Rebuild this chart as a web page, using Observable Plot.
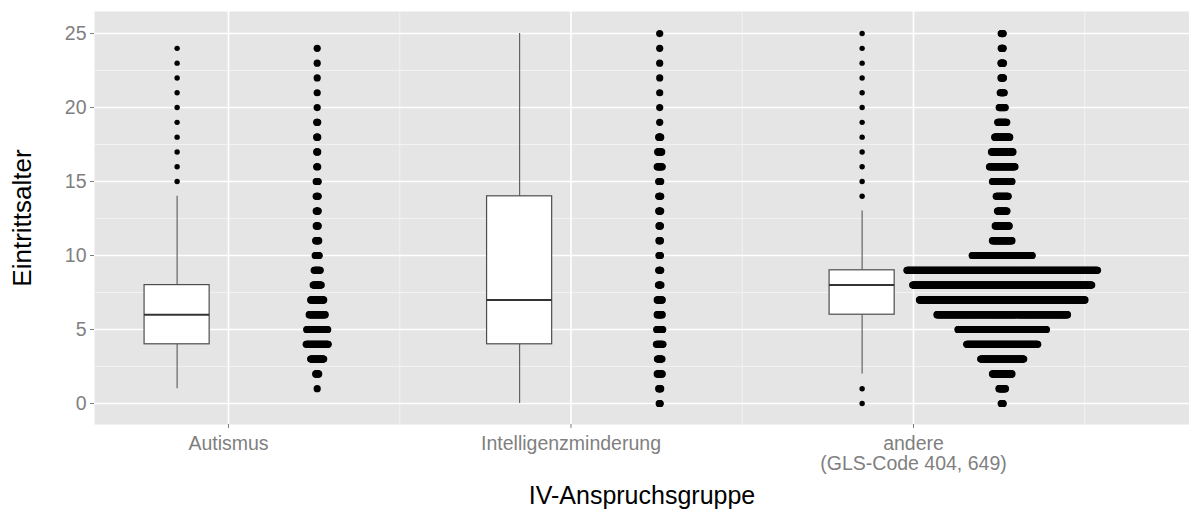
<!DOCTYPE html>
<html><head><meta charset="utf-8">
<script src="https://cdn.jsdelivr.net/npm/d3@7"></script>
<script src="https://cdn.jsdelivr.net/npm/@observablehq/plot@0.6"></script>
<style>
body{margin:0;background:#fff;}
#chart svg{display:block;font-family:"Liberation Sans",Arial,Helvetica,sans-serif;}
</style>
</head><body><div id="chart"></div>
<script>
// ---- data ----
const groups = ["Autismus", "Intelligenzminderung", "andere\n(GLS-Code 404, 649)"];
const yTicks = [0, 5, 10, 15, 20, 25];
const ageBins = [0,1,2,3,4,5,6,7,8,9,10,11,12,13,14,15,16,17,18,19,20,21,22,23,24,25];
// dot-stack sizes per age bin
const stackAutismus     = [0,1,7,27,45,43,33,27,17,13,9,7,5,5,5,5,3,3,3,3,1,1,1,1,1,0];
const stackIntelligenz  = [3,5,11,10,14,13,11,11,6,5,4,4,4,5,5,5,11,9,5,1,1,1,1,1,1,1];
const stackAndere       = [5,14,40,87,143,178,262,332,359,382,121,40,29,20,25,40,52,44,31,19,13,9,6,6,5,5];
// boxplot statistics
const boxQ1        = [4, 4, 6];
const boxMedian    = [6, 7, 8];
const boxQ3        = [8, 14, 9];
const whiskerLow   = [1, 0, 2];
const whiskerHigh  = [14, 25, 13];
const outliersAutismus    = [15,16,17,18,19,20,21,22,23,24];
const outliersIntelligenz = [];
const outliersAndere      = [0,1,14,15,16,17,18,19,20,21,22,23,24,25];

// ---- layout constants ----
const boxOffset = -0.15, boxHalf = 0.095, dotOffset = 0.259, dotStep = 0.00146;

const boxes = groups.map((g, i) => ({
  pos: i + 1 + boxOffset, q1: boxQ1[i], med: boxMedian[i], q3: boxQ3[i],
  lo: whiskerLow[i], hi: whiskerHigh[i]
}));
const outlierSets = [outliersAutismus, outliersIntelligenz, outliersAndere];
const outliers = outlierSets.flatMap((arr, i) => arr.map(v => ({x: i + 1 + boxOffset, y: v})));
const stacks = [stackAutismus, stackIntelligenz, stackAndere];
const stackDots = stacks.flatMap((arr, i) => arr.flatMap((n, a) =>
  d3.range(n).map(k => ({x: i + 1 + dotOffset + (k - (n - 1) / 2) * dotStep, y: ageBins[a]}))));

const grey = "#7f7f7f";
const chart = Plot.plot({
  width: 1189, height: 509,
  marginLeft: 94, marginRight: 0, marginTop: 11, marginBottom: 85,
  x: {type: "linear", domain: [0.6088, 3.8058], axis: null},
  y: {domain: [-1.42, 26.49], axis: null},
  style: {fontFamily: "'Liberation Sans', Arial, Helvetica, sans-serif", background: "#fff"},
  marks: [
    Plot.frame({fill: "#e5e5e5", stroke: "none"}),
    Plot.ruleY([2.5, 7.5, 12.5, 17.5, 22.5], {stroke: "#f2f2f2", strokeWidth: 1}),
    Plot.ruleX([1.5, 2.5, 3.5], {stroke: "#f2f2f2", strokeWidth: 1}),
    Plot.ruleY(yTicks, {stroke: "#ffffff", strokeWidth: 1.6}),
    Plot.ruleX([1, 2, 3], {stroke: "#ffffff", strokeWidth: 1.6}),
    Plot.ruleX(boxes, {x: "pos", y1: "lo", y2: "q1", stroke: "#595959", strokeWidth: 1.1}),
    Plot.ruleX(boxes, {x: "pos", y1: "q3", y2: "hi", stroke: "#595959", strokeWidth: 1.1}),
    Plot.rect(boxes, {x1: d => d.pos - boxHalf, x2: d => d.pos + boxHalf, y1: "q1", y2: "q3",
      fill: "#ffffff", stroke: "#4d4d4d", strokeWidth: 1.2}),
    Plot.ruleY(boxes, {y: "med", x1: d => d.pos - boxHalf, x2: d => d.pos + boxHalf, stroke: "#333333", strokeWidth: 2}),
    Plot.dot(outliers, {x: "x", y: "y", r: 2.7, fill: "#000", stroke: "none"}),
    Plot.dot(stackDots, {x: "x", y: "y", r: 3.6, fill: "#000", stroke: "none"}),
    Plot.axisY({ticks: yTicks, tickSize: 4, tickPadding: 4, fontSize: 19.5, color: grey, label: null}),
    Plot.axisX({ticks: [1, 2, 3], tickFormat: d => groups[d - 1], tickSize: 4, tickPadding: 7,
      fontSize: 19.5, color: grey, label: null, lineHeight: 1.04}),
    Plot.text(["Eintrittsalter"], {frameAnchor: "left", textAnchor: "middle", lineAnchor: "middle",
      rotate: -90, dx: -72, fontSize: 26, fill: "#000"}),
    Plot.text(["IV-Anspruchsgruppe"], {frameAnchor: "bottom", textAnchor: "middle", lineAnchor: "middle",
      dy: 71, fontSize: 25, fill: "#000"})
  ]
});
document.getElementById("chart").appendChild(chart);
</script>
</body></html>
